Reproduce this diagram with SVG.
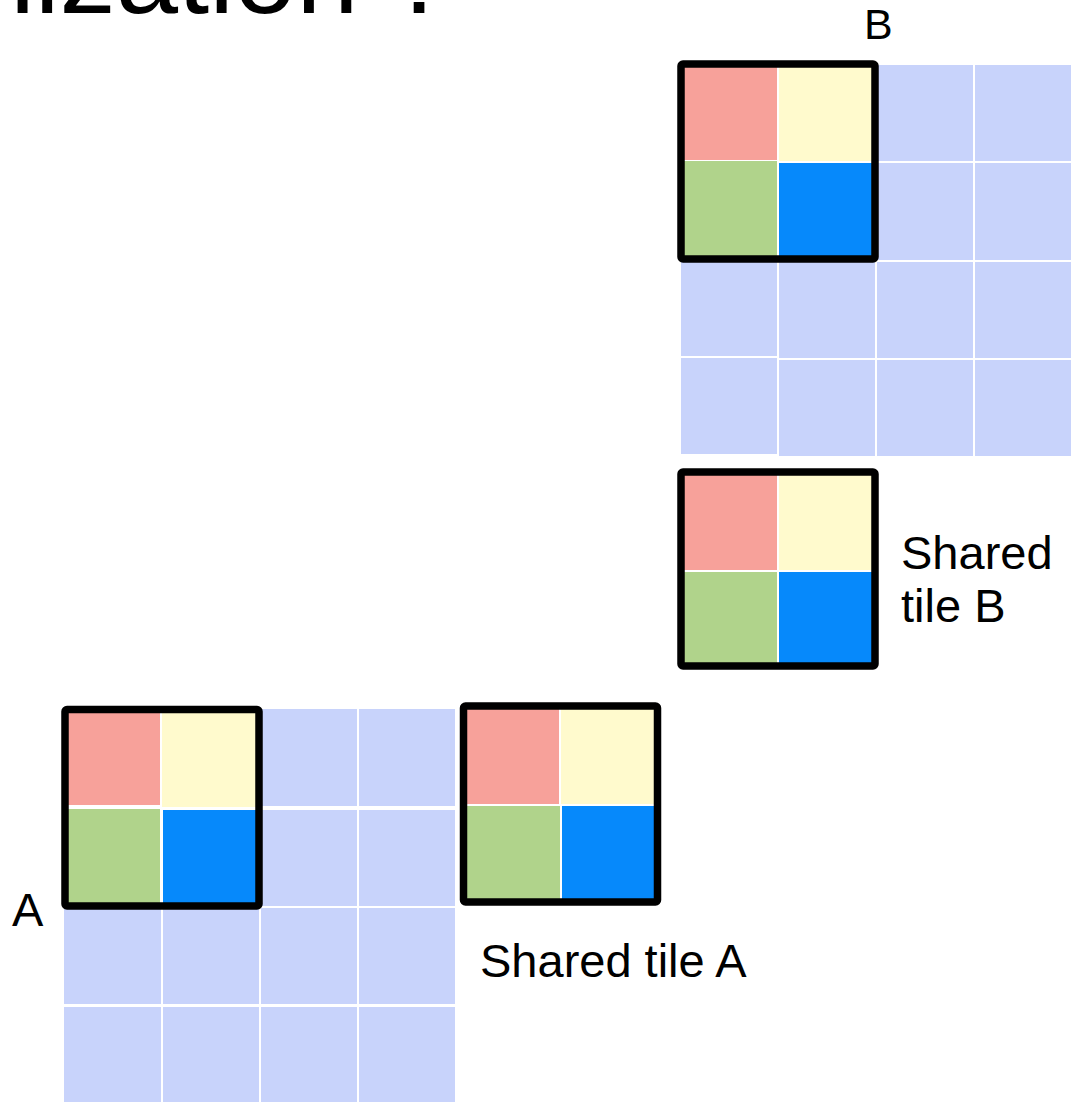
<svg xmlns="http://www.w3.org/2000/svg" width="1083" height="1102" viewBox="0 0 1083 1102">
<style>
.lb{fill:#C8D3FB}
.r{fill:#F7A19A}
.y{fill:#FFFACD}
.g{fill:#B0D38B}
.b{fill:#0689FB}
.frame{fill:none;stroke:#000;stroke-width:7.5;stroke-linejoin:round}
text{font-family:"Liberation Sans",Arial,sans-serif;fill:#000}
</style>
<rect width="1083" height="1102" fill="#fff"/>
<text id="title" x="452" y="13" font-size="112" text-anchor="end">nization ?</text>
<g id="gridB">
<rect class="lb" x="877" y="65" width="96" height="96"/>
<rect class="lb" x="975" y="65" width="96" height="96"/>
<rect class="lb" x="877" y="163" width="96" height="97"/>
<rect class="lb" x="975" y="163" width="96" height="97"/>
<rect class="lb" x="681" y="262" width="96" height="94"/>
<rect class="lb" x="681" y="358" width="96" height="96"/>
<rect class="lb" x="779" y="262" width="96" height="96"/>
<rect class="lb" x="877" y="262" width="96" height="96"/>
<rect class="lb" x="975" y="262" width="96" height="96"/>
<rect class="lb" x="779" y="360" width="96" height="96"/>
<rect class="lb" x="877" y="360" width="96" height="96"/>
<rect class="lb" x="975" y="360" width="96" height="96"/>
<rect class="r" x="681" y="64" width="96" height="96"/>
<rect class="y" x="779" y="64" width="96" height="97"/>
<rect class="g" x="681" y="161" width="96" height="98"/>
<rect class="b" x="779" y="163" width="96" height="96"/>
<rect class="frame" x="681" y="64" width="194" height="195" rx="2"/>
</g>
<g id="tileB">
<rect class="r" x="681" y="472" width="96" height="98"/>
<rect class="y" x="779" y="472" width="96" height="98"/>
<rect class="g" x="681" y="572" width="96" height="94"/>
<rect class="b" x="779" y="572" width="96" height="94"/>
<rect class="frame" x="681" y="472" width="194" height="194" rx="2"/>
</g>
<g id="gridA">
<rect class="lb" x="261" y="709" width="96" height="97"/>
<rect class="lb" x="359" y="709" width="96" height="97"/>
<rect class="lb" x="261" y="810" width="96" height="96"/>
<rect class="lb" x="359" y="810" width="96" height="96"/>
<rect class="lb" x="64" y="908" width="97" height="96"/>
<rect class="lb" x="163" y="908" width="96" height="96"/>
<rect class="lb" x="261" y="908" width="96" height="96"/>
<rect class="lb" x="359" y="908" width="96" height="96"/>
<rect class="lb" x="64" y="1007" width="97" height="95"/>
<rect class="lb" x="163" y="1007" width="96" height="95"/>
<rect class="lb" x="261" y="1007" width="96" height="95"/>
<rect class="lb" x="359" y="1007" width="96" height="95"/>
<rect class="r" x="65" y="709" width="95" height="96"/>
<rect class="y" x="162" y="709" width="97" height="98"/>
<rect class="g" x="65" y="809" width="95" height="97"/>
<rect class="b" x="163" y="810" width="96" height="96"/>
<rect class="frame" x="65" y="709.5" width="194" height="196.5" rx="2"/>
</g>
<g id="tileA">
<rect class="r" x="463" y="706" width="96" height="98"/>
<rect class="y" x="561" y="706" width="97" height="98"/>
<rect class="g" x="463" y="806" width="97" height="96"/>
<rect class="b" x="562" y="806" width="96" height="96"/>
<rect class="frame" x="463.5" y="706" width="194" height="196" rx="2"/>
</g>
<g id="labels">
<text x="864" y="39" font-size="43">B</text>
<text x="12" y="926" font-size="47">A</text>
<text x="901" y="569" font-size="47">Shared</text>
<text x="901" y="622" font-size="47">tile B</text>
<text x="480" y="977" font-size="47">Shared tile A</text>
</g>
</svg>
